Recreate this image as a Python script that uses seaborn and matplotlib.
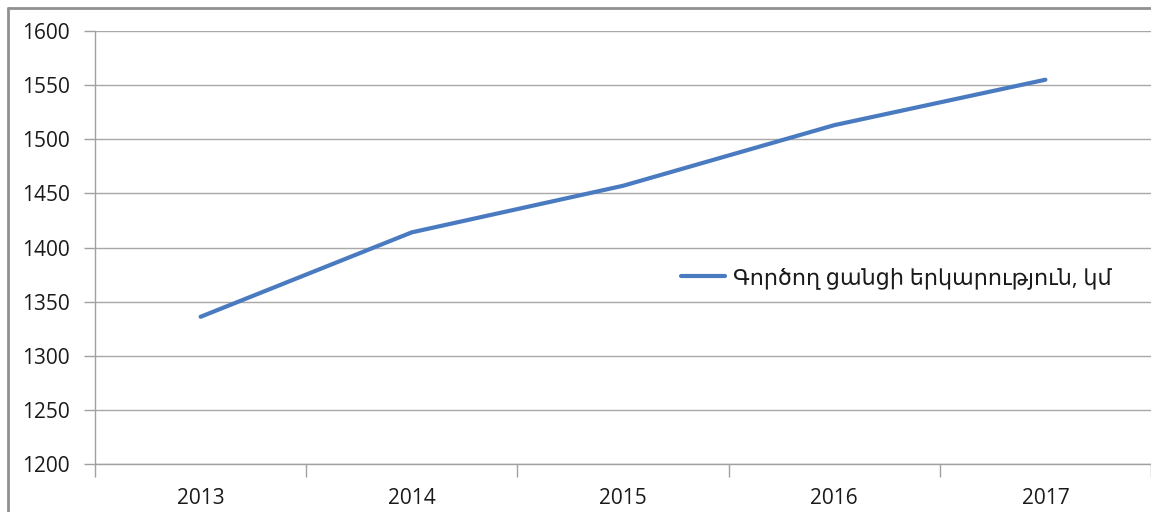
import matplotlib
matplotlib.use("Agg")
import matplotlib.pyplot as plt
import seaborn as sns
import pandas as pd
from matplotlib.lines import Line2D
from matplotlib.ticker import FixedLocator

years = ["2013", "2014", "2015", "2016", "2017"]
length_km = [1336, 1414, 1457, 1513, 1555]
series_label = "Գործող ցանցի երկարություն, կմ"
y_ticks = [1200, 1250, 1300, 1350, 1400, 1450, 1500, 1550, 1600]

sns.set_theme(style="white")
plt.rcParams['font.family'] = ['Open Sans', 'DejaVu Sans']

df = pd.DataFrame({"pos": list(range(len(years))), "value": length_km, "series": series_label})

fig = plt.figure(figsize=(11.51, 5.12), dpi=100)
ax = fig.add_axes([95/1151, 1 - 464/512, 1056/1151, 433/512])

sns.lineplot(data=df, x="pos", y="value", hue="series", palette=["#4a7bc0"],
             linewidth=3, ax=ax, legend=True)

ax.set_xlim(-0.5, len(years) - 0.5)
ax.set_ylim(1200, 1600)
ax.set_yticks(y_ticks)
ax.set_yticklabels([str(v) for v in y_ticks], fontsize=15, color="#1a1a1a")
ax.set_xticks(range(len(years)))
ax.set_xticklabels(years, fontsize=15, color="#1a1a1a")
ax.xaxis.set_minor_locator(FixedLocator([i - 0.5 for i in range(len(years) + 1)]))
ax.tick_params(axis="x", which="major", length=0, pad=17, bottom=True)
ax.tick_params(axis="x", which="minor", length=9, width=1, color="#a0a0a0",
               direction="out", bottom=True)
ax.tick_params(axis="y", which="major", length=8, width=1, color="#a0a0a0",
               direction="out", pad=10, left=True)
ax.set_xlabel("")
ax.set_ylabel("")

ax.grid(axis="y", color="#a8a8a8", linewidth=1)
ax.grid(axis="x", visible=False)
for side in ["top", "right"]:
    ax.spines[side].set_visible(False)
for side in ["left", "bottom"]:
    ax.spines[side].set_color("#a0a0a0")
    ax.spines[side].set_linewidth(1)

leg = ax.legend(loc="center left", bbox_to_anchor=(0.5545, 0.4296), frameon=False,
                fontsize=16, handlelength=2.0, handletextpad=0.35, borderpad=0,
                borderaxespad=0)
for t in leg.get_texts():
    t.set_color("#1a1a1a")

# outer frame of the original chart box
fig.add_artist(Line2D([8/1151, 8/1151], [0, 1 - 8/512], transform=fig.transFigure,
                      color="#909090", linewidth=2))
fig.add_artist(Line2D([8/1151, 1], [1 - 8/512, 1 - 8/512], transform=fig.transFigure,
                      color="#909090", linewidth=2))

fig.savefig("out.png", dpi=100, facecolor="white")
